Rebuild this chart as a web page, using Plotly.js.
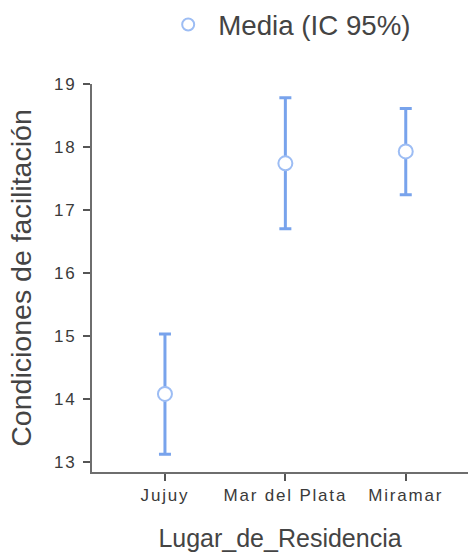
<!DOCTYPE html>
<html>
<head>
<meta charset="utf-8">
<script src="https://cdn.plot.ly/plotly-3.0.1.min.js"></script>
<style>
  html, body { margin: 0; padding: 0; background: #fff; }
  #chart { width: 468px; height: 554px; }
  .xtick text, .ytick text { letter-spacing: 1.8px; }
</style>
</head>
<body>
<div id="chart"></div>
<script>
// Data
const categories = ["Jujuy", "Mar del Plata", "Miramar"];
const means = [14.08, 17.74, 17.93];
const ciUpper = [15.03, 18.78, 18.61];
const ciLower = [13.12, 16.70, 17.24];
const yTicks = [13, 14, 15, 16, 17, 18, 19];
const seriesName = "Media (IC 95%)";
const xTitle = "Lugar_de_Residencia";
const yTitle = "Condiciones de facilitación";

const errPlus = means.map((m, i) => ciUpper[i] - m);
const errMinus = means.map((m, i) => m - ciLower[i]);

const FONT = '"Liberation Sans", Arial, sans-serif';

const trace = {
  type: 'scatter',
  mode: 'markers',
  x: categories,
  y: means,
  name: seriesName,
  showlegend: true,
  marker: {
    symbol: 'circle',
    size: 14,
    color: '#ffffff',
    line: { color: '#9dbdf4', width: 2 }
  },
  error_y: {
    type: 'data',
    symmetric: false,
    array: errPlus,
    arrayminus: errMinus,
    color: '#78a3ec',
    thickness: 3,
    width: 6
  },
  cliponaxis: false
};

const layout = {
  width: 468,
  height: 554,
  margin: { l: 92, r: 0, t: 84, b: 82, pad: 0 },
  paper_bgcolor: '#ffffff',
  plot_bgcolor: '#ffffff',
  font: { family: FONT, color: '#444' },
  showlegend: true,
  legend: {
    orientation: 'h',
    x: 0.176,
    xanchor: 'left',
    y: 1.152,
    yanchor: 'middle',
    itemwidth: 50,
    itemsizing: 'constant',
    font: { size: 27.7, color: '#444', family: FONT },
    bgcolor: 'rgba(0,0,0,0)',
    borderwidth: 0
  },
  xaxis: {
    type: 'category',
    range: [-0.606, 2.517],
    showgrid: false,
    zeroline: false,
    showline: true,
    linecolor: '#6e6e6e',
    linewidth: 2,
    ticks: 'outside',
    ticklen: 7,
    tickwidth: 2,
    tickcolor: '#555',
    tickfont: { size: 17, color: '#3a3a3a', family: FONT },
    automargin: false,
    title: { text: xTitle, font: { size: 25, color: '#444', family: FONT }, standoff: 25 }
  },
  yaxis: {
    range: [12.84, 19],
    tickvals: yTicks,
    showgrid: false,
    zeroline: false,
    showline: true,
    linecolor: '#6e6e6e',
    linewidth: 2,
    ticks: 'outside',
    ticklen: 7,
    tickwidth: 2,
    tickcolor: '#555',
    ticklabelstandoff: 3,
    tickfont: { size: 17, color: '#3a3a3a', family: FONT },
    automargin: false,
    title: { text: yTitle, font: { size: 28.5, color: '#444', family: FONT }, standoff: 14 }
  }
};

Plotly.newPlot('chart', [trace], layout, { displayModeBar: false, staticPlot: true });
</script>
</body>
</html>
